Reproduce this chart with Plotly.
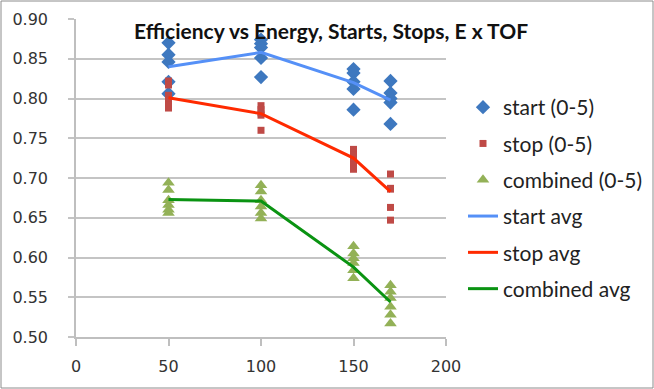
import plotly.graph_objects as go

energy = [50, 100, 150, 170]

start_x = [50]*5 + [100]*5 + [150]*5 + [170]*5
start_y = [0.870, 0.855, 0.846, 0.821, 0.806,
           0.874, 0.869, 0.864, 0.851, 0.827,
           0.837, 0.832, 0.821, 0.812, 0.786,
           0.822, 0.807, 0.800, 0.795, 0.768]

stop_x = [50]*6 + [100]*5 + [150]*5 + [170]*5
stop_y = [0.822, 0.817, 0.804, 0.798, 0.792, 0.788,
          0.791, 0.786, 0.782, 0.779, 0.760,
          0.736, 0.729, 0.723, 0.716, 0.711,
          0.705, 0.687, 0.686, 0.663, 0.647]

comb_x = [50]*6 + [100]*6 + [150]*6 + [170]*6
comb_y = [0.694, 0.685, 0.672, 0.666, 0.660, 0.656,
          0.691, 0.683, 0.672, 0.664, 0.656, 0.649,
          0.614, 0.605, 0.599, 0.593, 0.584, 0.574,
          0.565, 0.557, 0.549, 0.538, 0.528, 0.517]

start_avg = [0.840, 0.858, 0.820, 0.798]
stop_avg = [0.801, 0.781, 0.725, 0.683]
comb_avg = [0.673, 0.671, 0.588, 0.544]

x_ticks = [0, 50, 100, 150, 200]
y_ticks = [0.50, 0.55, 0.60, 0.65, 0.70, 0.75, 0.80, 0.85, 0.90]

legend_font = dict(family="Lato, sans-serif", size=21, color="#222")
tick_font = dict(family="DejaVu Sans", size=16, color="#333")

fig = go.Figure()
fig.add_trace(go.Scatter(x=start_x, y=start_y, mode="markers", name="start (0-5)",
                         marker=dict(symbol="diamond", size=11, color="#3e78bf"),
                         legendgroup="a"))
fig.add_trace(go.Scatter(x=stop_x, y=stop_y, mode="markers", name="stop (0-5)",
                         marker=dict(symbol="square", size=7, color="#bf4a46"),
                         legendgroup="b"))
fig.add_trace(go.Scatter(x=comb_x, y=comb_y, mode="markers", name="combined (0-5)",
                         marker=dict(symbol="triangle-up", size=11, color="#93b157"),
                         legendgroup="c"))
fig.add_trace(go.Scatter(x=energy, y=start_avg, mode="lines", name="start avg",
                         line=dict(color="#5590f7", width=3), legendgroup="d"))
fig.add_trace(go.Scatter(x=energy, y=stop_avg, mode="lines", name="stop avg",
                         line=dict(color="#ff2a00", width=3), legendgroup="e"))
fig.add_trace(go.Scatter(x=energy, y=comb_avg, mode="lines", name="combined avg",
                         line=dict(color="#0a9312", width=3), legendgroup="f"))

L, R, T, B = 76, 446, 19, 337
W, H = 654, 389
pw, ph = R - L, B - T

fig.update_layout(
    width=W, height=H,
    margin=dict(l=L, r=W - R, t=T, b=H - B, autoexpand=False),
    paper_bgcolor="white", plot_bgcolor="white",
    showlegend=True,
    legend=dict(x=(463 - L) / pw, xanchor="left", y=(B - 87) / ph, yanchor="top",
                font=legend_font, traceorder="grouped", tracegroupgap=6,
                itemwidth=30, bgcolor="rgba(0,0,0,0)"),
    xaxis=dict(range=[0, 200], tickvals=x_ticks, showgrid=False, zeroline=False,
               showline=True, linecolor="#bfbfbf", linewidth=1.5,
               ticks="outside", ticklen=7, tickcolor="#bfbfbf", tickwidth=1.5,
               ticklabelstandoff=7, automargin=False, tickfont=tick_font),
    yaxis=dict(range=[0.5, 0.9], tickvals=y_ticks, tickformat=".2f",
               showgrid=True, gridcolor="#c4c4c4", gridwidth=1.5, zeroline=False,
               showline=True, linecolor="#bfbfbf", linewidth=1.5,
               ticks="outside", ticklen=6, tickcolor="#c4c4c4", tickwidth=1.5,
               ticklabelstandoff=17, automargin=False, tickfont=tick_font),
    annotations=[dict(text="<b>Efficiency vs Energy, Starts, Stops, E x TOF</b>",
                      xref="paper", yref="paper", x=(331 - L) / pw, y=(B - 30) / ph,
                      xanchor="center", yanchor="middle", showarrow=False,
                      font=dict(family="Lato, sans-serif", size=21, color="#111"))],
    shapes=[dict(type="rect", xref="paper", yref="paper",
                 x0=(1 - L) / pw, x1=(W - 1 - L) / pw,
                 y0=(B - (H - 1)) / ph, y1=(B - 1) / ph,
                 line=dict(color="#8c8c8c", width=1), layer="below")],
)

fig.write_html("out.html")
